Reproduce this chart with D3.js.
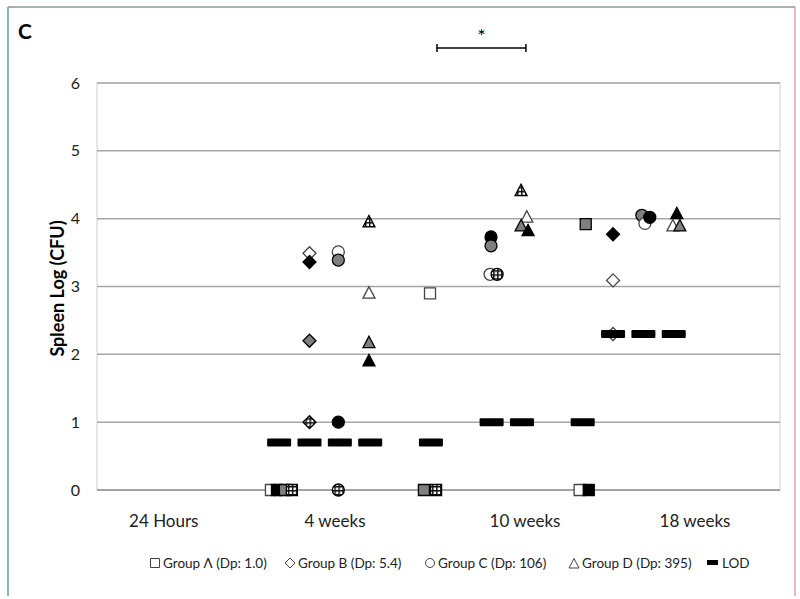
<!DOCTYPE html>
<html><head><meta charset="utf-8">
<script src="https://cdn.jsdelivr.net/npm/d3@7"></script>
<style>body{margin:0;background:#fff}svg{display:block}</style>
</head><body>
<svg id="chart" width="800" height="599"></svg>
<script>
// ---------- data ----------
const categories = ["24 Hours", "4 weeks", "10 weeks", "18 weeks"];
const categoryX = [2.2, 7.84, 14.1, 19.7];
const yTicks = [0, 1, 2, 3, 4, 5, 6];
// fill code: o = open, k = black, g = gray, x = grid pattern
const groupA = [ // squares
  {x: 5.73, y: 0, f: "o"}, {x: 5.93, y: 0, f: "k"}, {x: 6.19, y: 0, f: "g"}, {x: 6.42, y: 0, f: "x"},
  {x: 10.97, y: 2.9, f: "o"}, {x: 10.77, y: 0, f: "g"}, {x: 11.17, y: 0, f: "x"},
  {x: 16.1, y: 3.92, f: "g"}, {x: 15.9, y: 0, f: "o"}, {x: 16.2, y: 0, f: "k"}
];
const groupB = [ // diamonds
  {x: 7, y: 3.49, f: "o"}, {x: 7, y: 3.36, f: "k"}, {x: 7, y: 2.2, f: "g"}, {x: 7, y: 1.0, f: "x"},
  {x: 17, y: 3.77, f: "k"}, {x: 17, y: 3.09, f: "o"}, {x: 17, y: 2.3, f: "o"}
];
const groupC = [ // circles
  {x: 7.95, y: 3.51, f: "o"}, {x: 7.95, y: 3.39, f: "g"}, {x: 7.95, y: 1.0, f: "k"}, {x: 7.95, y: 0, f: "x"},
  {x: 12.98, y: 3.73, f: "k"}, {x: 12.98, y: 3.6, f: "g"}, {x: 12.95, y: 3.18, f: "o"}, {x: 13.18, y: 3.18, f: "x"},
  {x: 17.95, y: 4.05, f: "g"}, {x: 18.05, y: 3.93, f: "o"}, {x: 18.21, y: 4.02, f: "k"}
];
const groupD = [ // triangles
  {x: 8.96, y: 3.95, f: "x"}, {x: 8.96, y: 2.9, f: "o"}, {x: 8.96, y: 2.17, f: "g"}, {x: 8.96, y: 1.9, f: "k"},
  {x: 13.97, y: 4.41, f: "x"}, {x: 14.16, y: 4.02, f: "o"}, {x: 13.97, y: 3.89, f: "g"}, {x: 14.2, y: 3.82, f: "k"},
  {x: 19.1, y: 4.07, f: "k"}, {x: 18.97, y: 3.89, f: "o"}, {x: 19.2, y: 3.89, f: "g"}
];
const lodX = [6, 7, 8, 9, 11, 13, 14, 16, 17, 18, 19];
const lodY = [0.7, 0.7, 0.7, 0.7, 0.7, 1.0, 1.0, 1.0, 2.3, 2.3, 2.3];
const sigBar = {x1: 11.2, x2: 14.13, label: "*"};
const legendLabels = ["Group Λ (Dp: 1.0)", "Group B (Dp: 5.4)", "Group C (Dp: 106)", "Group D (Dp: 395)", "LOD"];

// ---------- layout ----------
const svg = d3.select("#chart");
const plot = {left: 97, right: 780, top: 83, bottom: 490};
const x = d3.scaleLinear().domain([0, 22.5]).range([plot.left, plot.right]);
const y = d3.scaleLinear().domain([0, 6]).range([plot.bottom, plot.top]);
const FONT = "Lato, 'Open Sans', sans-serif";

const defs = svg.append("defs");
const pat = defs.append("pattern").attr("id", "grid").attr("patternUnits", "userSpaceOnUse")
  .attr("width", 4).attr("height", 4);
pat.append("rect").attr("width", 4).attr("height", 4).attr("fill", "#fff");
pat.append("rect").attr("x", 0).attr("y", 0).attr("width", 4).attr("height", 1.5).attr("fill", "#111");
pat.append("rect").attr("x", 0).attr("y", 0).attr("width", 1.5).attr("height", 4).attr("fill", "#111");

const fills = {o: "#fff", k: "#000", g: "#7f7f7f", x: "url(#grid)"};

// outer frame
svg.append("line").attr("x1", 8).attr("y1", 7).attr("x2", 8).attr("y2", 596).attr("stroke", "#5f9ea0").attr("stroke-width", 1.5);
svg.append("line").attr("x1", 8).attr("y1", 7).attr("x2", 795).attr("y2", 7).attr("stroke", "#8a9a9a").attr("stroke-width", 1.5);
svg.append("line").attr("x1", 795).attr("y1", 7).attr("x2", 795).attr("y2", 596).attr("stroke", "#e0a0a8").attr("stroke-width", 1.5);

// panel letter
svg.append("text").attr("x", 18).attr("y", 39).attr("font-family", FONT).attr("font-weight", "bold")
  .attr("font-size", 21).attr("fill", "#000").text("C");

// plot border
svg.append("rect").attr("x", plot.left).attr("y", plot.top)
  .attr("width", plot.right - plot.left).attr("height", plot.bottom - plot.top)
  .attr("fill", "none").attr("stroke", "#d0d0d0").attr("stroke-width", 1);

// gridlines
svg.append("g").selectAll("line").data(yTicks).join("line")
  .attr("x1", plot.left).attr("x2", plot.right)
  .attr("y1", d => y(d)).attr("y2", d => y(d))
  .attr("stroke", d => d === 0 ? "#8c8c8c" : "#a6a6a6").attr("stroke-width", 1.5);

// y axis labels
const yAxis = d3.axisLeft(y).tickValues(yTicks).tickSize(0).tickPadding(17).tickFormat(d3.format("d"));
const ya = svg.append("g").attr("transform", `translate(${plot.left},0)`).call(yAxis);
ya.select(".domain").remove();
ya.selectAll("text").attr("font-family", FONT).attr("font-size", 16).attr("fill", "#222");

svg.append("text").attr("transform", `translate(64,${(y(0) + y(6)) / 2 + 2}) rotate(-90)`)
  .attr("text-anchor", "middle").attr("font-family", FONT).attr("font-weight", "bold")
  .attr("font-size", 18).attr("fill", "#000").text("Spleen Log (CFU)");

// x category labels
svg.append("g").selectAll("text").data(categories).join("text")
  .attr("x", (d, i) => x(categoryX[i])).attr("y", 527)
  .attr("text-anchor", "middle").attr("font-family", FONT).attr("font-size", 17).attr("fill", "#222")
  .text(d => d);

// significance bar
const sg = svg.append("g").attr("stroke", "#000").attr("stroke-width", 1.5);
sg.append("line").attr("x1", x(sigBar.x1)).attr("x2", x(sigBar.x2)).attr("y1", 48).attr("y2", 48);
sg.append("line").attr("x1", x(sigBar.x1)).attr("x2", x(sigBar.x1)).attr("y1", 44).attr("y2", 52);
sg.append("line").attr("x1", x(sigBar.x2)).attr("x2", x(sigBar.x2)).attr("y1", 44).attr("y2", 52);
svg.append("text").attr("x", (x(sigBar.x1) + x(sigBar.x2)) / 2).attr("y", 43).attr("text-anchor", "middle")
  .attr("font-family", FONT).attr("font-size", 20).attr("fill", "#000").text(sigBar.label);

// marker shapes
const shapes = {
  square: s => `M${-s/2},${-s/2}h${s}v${s}h${-s}Z`,
  diamond: s => `M0,${-s/2}L${s/2},0L0,${s/2}L${-s/2},0Z`,
  circle: s => d3.symbol(d3.symbolCircle, Math.PI * s * s / 4)(),
  triangle: s => `M0,${-s*0.55}L${s/2},${s*0.4}L${-s/2},${s*0.4}Z`
};

function drawGroup(data, shape, size) {
  svg.append("g").selectAll("path").data(data).join("path")
    .attr("transform", d => `translate(${x(d.x)},${y(d.y)})`)
    .attr("d", shapes[shape](size))
    .attr("fill", d => fills[d.f])
    .attr("stroke", d => d.f === "o" ? "#444" : "#000").attr("stroke-width", 1.3);
}
drawGroup(groupA, "square", 11);
drawGroup(groupB, "diamond", 13);
drawGroup(groupC, "circle", 12);
drawGroup(groupD, "triangle", 12);

svg.append("g").selectAll("rect").data(lodX).join("rect")
  .attr("x", d => x(d) - 12).attr("y", (d, i) => y(lodY[i]) - 4)
  .attr("width", 24).attr("height", 8).attr("rx", 1).attr("fill", "#000");

// legend
const legendX = [150, 285, 425, 569, 707];
const lg = svg.append("g");
const ly = 563;
lg.append("path").attr("transform", `translate(${legendX[0] + 5},${ly})`).attr("d", shapes.square(9))
  .attr("fill", "#fff").attr("stroke", "#444").attr("stroke-width", 1);
lg.append("path").attr("transform", `translate(${legendX[1] + 5},${ly})`).attr("d", shapes.diamond(10))
  .attr("fill", "#fff").attr("stroke", "#444").attr("stroke-width", 1);
lg.append("path").attr("transform", `translate(${legendX[2] + 5},${ly})`).attr("d", shapes.circle(9))
  .attr("fill", "#fff").attr("stroke", "#444").attr("stroke-width", 1);
lg.append("path").attr("transform", `translate(${legendX[3] + 5},${ly + 1})`).attr("d", shapes.triangle(10))
  .attr("fill", "#fff").attr("stroke", "#444").attr("stroke-width", 1);
lg.append("rect").attr("x", legendX[4]).attr("y", ly - 3).attr("width", 11).attr("height", 5).attr("fill", "#000");
lg.selectAll("text").data(legendLabels).join("text")
  .attr("x", (d, i) => legendX[i] + (i === 4 ? 15 : 13)).attr("y", ly + 5)
  .attr("font-family", FONT).attr("font-size", 13.5).attr("fill", "#222").text(d => d);
</script>
</body></html>
